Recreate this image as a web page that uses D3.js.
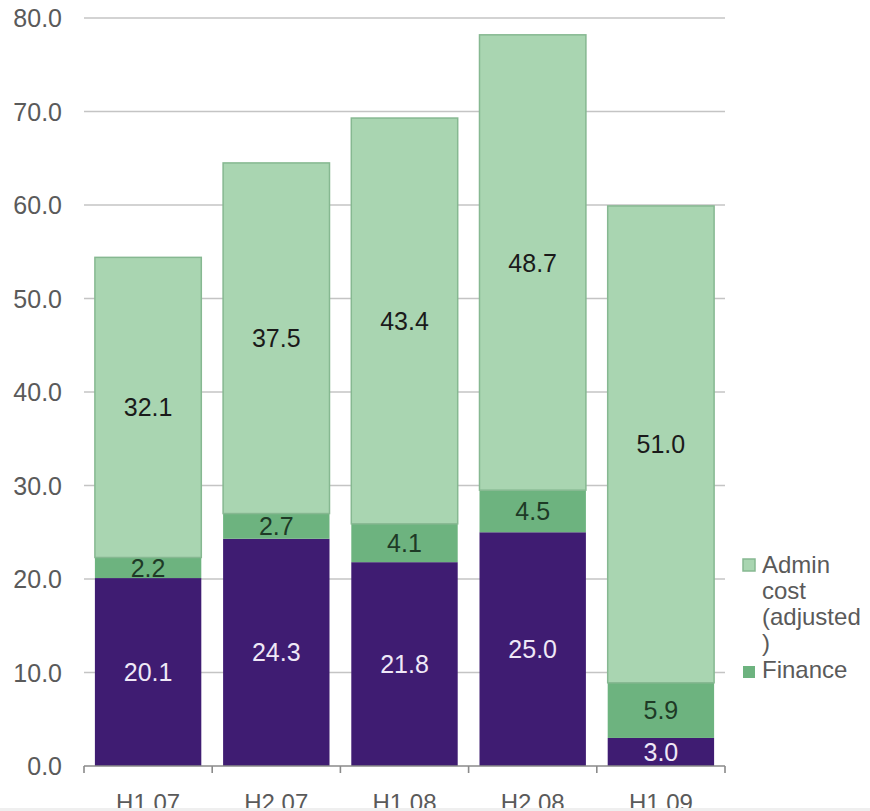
<!DOCTYPE html>
<html>
<head>
<meta charset="utf-8">
<script src="https://cdn.jsdelivr.net/npm/d3@7/dist/d3.min.js"></script>
<style>
html,body{margin:0;padding:0;background:#fff;}
svg{display:block;font-family:"Liberation Sans",Arial,sans-serif;}
</style>
</head>
<body>
<svg id="chart" width="870" height="811"></svg>
<script>
const categories = ["H1 07","H2 07","H1 08","H2 08","H1 09"];
const baseValues = [20.1, 24.3, 21.8, 25.0, 3.0];
const financeValues = [2.2, 2.7, 4.1, 4.5, 5.9];
const adminValues = [32.1, 37.5, 43.4, 48.7, 51.0];
const yTicks = [0,10,20,30,40,50,60,70,80];
const legendLabels = [["Admin","cost","(adjusted",")"],["Finance"]];

(function(){
const svg = d3.select("#chart");
const pl = 84, pr = 725, pt = 18, pb = 766;

const x = d3.scaleBand().domain(categories).range([pl, pr]).paddingInner(0.17).paddingOuter(0.085);
const y = d3.scaleLinear().domain([0, 80]).range([pb, pt]);

// gridlines
svg.append("g").selectAll("line").data(yTicks.slice(1)).join("line")
  .attr("x1", pl).attr("x2", pr)
  .attr("y1", d => y(d)).attr("y2", d => y(d))
  .attr("stroke", "#c4c4c4").attr("stroke-width", 1.6);

// y labels
svg.append("g").selectAll("text").data(yTicks).join("text")
  .attr("x", 62).attr("y", d => y(d)).attr("dy", "0.36em")
  .attr("text-anchor", "end").attr("font-size", 25).attr("fill", "#5a5a5a")
  .text(d => d.toFixed(1));

const rows = categories.map((c, i) => ({cat: c, base: baseValues[i], finance: financeValues[i], admin: adminValues[i]}));
const keys = ["base", "finance", "admin"];
const stack = d3.stack().keys(keys)(rows);
const fills = {base: "#3f1c72", finance: "#6db37f", admin: "#a9d5b1"};
const strokes = {base: "none", finance: "none", admin: "#86b891"};
const labelFill = {base: "#efe8f7", finance: "#1e3a26", admin: "#1a1a1a"};

stack.forEach(layer => {
  const g = svg.append("g");
  g.selectAll("rect").data(layer).join("rect")
    .attr("x", d => x(d.data.cat))
    .attr("width", x.bandwidth())
    .attr("y", d => y(d[1]))
    .attr("height", d => y(d[0]) - y(d[1]))
    .attr("fill", fills[layer.key])
    .attr("stroke", strokes[layer.key])
    .attr("stroke-width", 1.5);
});
stack.forEach(layer => {
  svg.append("g").selectAll("text").data(layer).join("text")
    .attr("x", d => x(d.data.cat) + x.bandwidth() / 2)
    .attr("y", d => y((d[0] + d[1]) / 2)).attr("dy", "0.36em")
    .attr("text-anchor", "middle").attr("font-size", 25)
    .attr("fill", labelFill[layer.key])
    .text(d => d.data[layer.key].toFixed(1));
});

// bottom axis
const ax = svg.append("g").attr("transform", `translate(0,${pb})`);
ax.append("line").attr("x1", pl).attr("x2", pr).attr("stroke", "#8a8a8a").attr("stroke-width", 1.6);
const bounds = [pl].concat(categories.map(c => x(c) + x.bandwidth() + x.step() * x.paddingInner() / 2));
bounds[bounds.length - 1] = pr;
ax.selectAll("line.tk").data(bounds).join("line").attr("class", "tk")
  .attr("x1", d => d).attr("x2", d => d).attr("y1", 0).attr("y2", 7)
  .attr("stroke", "#8a8a8a").attr("stroke-width", 1.6);
ax.selectAll("text").data(categories).join("text")
  .attr("x", d => x(d) + x.bandwidth() / 2).attr("y", 45)
  .attr("text-anchor", "middle").attr("font-size", 24).attr("fill", "#5a5a5a")
  .text(d => d);

// legend
const lg = svg.append("g");
lg.append("rect").attr("x", 743).attr("y", 559).attr("width", 12).attr("height", 12)
  .attr("fill", fills.admin).attr("stroke", strokes.admin).attr("stroke-width", 1.5);
lg.append("text").attr("font-size", 24).attr("fill", "#5a5a5a")
  .selectAll("tspan").data(legendLabels[0]).join("tspan")
  .attr("x", 762).attr("y", (d, i) => 573 + i * 26).text(d => d);
lg.append("rect").attr("x", 743).attr("y", 666).attr("width", 12).attr("height", 12)
  .attr("fill", fills.finance);
lg.append("text").attr("font-size", 24).attr("fill", "#5a5a5a")
  .attr("x", 762).attr("y", 678).text(legendLabels[1][0]);

// bottom strip
svg.append("rect").attr("x", 0).attr("y", 808).attr("width", 870).attr("height", 3).attr("fill", "#efefef");
})();
</script>
</body>
</html>
